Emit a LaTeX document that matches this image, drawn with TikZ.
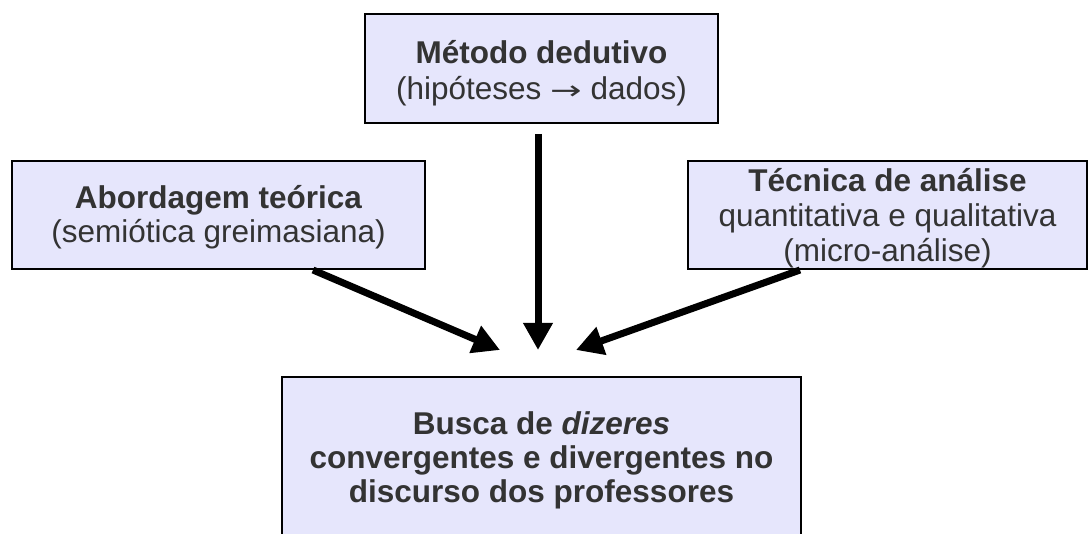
\documentclass[tikz,border=0pt]{standalone}
\usepackage{fontspec}
\usepackage{graphicx}
\setmainfont{Liberation Sans}
\newfontfamily\arrowfont{DejaVu Sans}
\usetikzlibrary{arrows.meta}
\definecolor{boxfill}{RGB}{230,230,252}
\definecolor{txtgray}{RGB}{51,51,51}
\tikzset{
  boxnode/.style={draw=black, line width=1.6pt, fill=boxfill, inner sep=0pt, outer sep=0pt},
  txtline/.style={anchor=base, inner sep=0pt, text=txtgray, font=\fontsize{31.5}{34}\selectfont},
  arr/.style={line width=7pt, -{Triangle[length=27pt,width=28pt]}, black}
}
\begin{document}
\begin{tikzpicture}[x=1pt,y=-1pt]
\useasboundingbox (0,0) rectangle (1089,534);
\clip (0,0) rectangle (1089,534);
% boxes
\node[boxnode, minimum width=353pt, minimum height=109pt] (top) at (541.5,68.5) {};
\node[boxnode, minimum width=413pt, minimum height=108pt] (left) at (218.5,215) {};
\node[boxnode, minimum width=399pt, minimum height=108pt] (right) at (887.5,215) {};
\node[boxnode, minimum width=519pt, minimum height=200pt] (bottom) at (541.5,477) {};
% texts
\node[txtline] (t1a) at (541.5,64) {\bfseries Método dedutivo};
\node[txtline] (t1b) at (541.5,100) {(hipóteses {\arrowfont\fontsize{26}{30}\selectfont\scalebox{1.45}[1]{→}} dados)};
\node[txtline] (t2a) at (218.5,209) {\bfseries Abordagem teórica};
\node[txtline] (t2b) at (218.5,243) {(semiótica greimasiana)};
\node[txtline] (t3a) at (887.5,192) {\bfseries Técnica de análise};
\node[txtline] (t3b) at (887.5,227) {quantitativa e qualitativa};
\node[txtline] (t3c) at (887.5,262) {(micro-análise)};
\node[txtline] (t4a) at (541.5,434) {\bfseries Busca de \textit{dizeres}};
\node[txtline] (t4b) at (541.5,468) {\bfseries convergentes e divergentes no};
\node[txtline] (t4c) at (541.5,502) {\bfseries discurso dos professores};
% arrow tips
\coordinate (tipL) at (500,350);
\coordinate (tipM) at (538,350);
\coordinate (tipR) at (576,350);
\draw[arr] ([xshift=94.5pt,yshift=-1pt]left.south) -- (tipL);
\draw[arr] ([xshift=-3.5pt,yshift=-11pt]top.south) -- (tipM);
\draw[arr] ([xshift=-87.5pt,yshift=-1pt]right.south) -- (tipR);
\end{tikzpicture}
\end{document}
